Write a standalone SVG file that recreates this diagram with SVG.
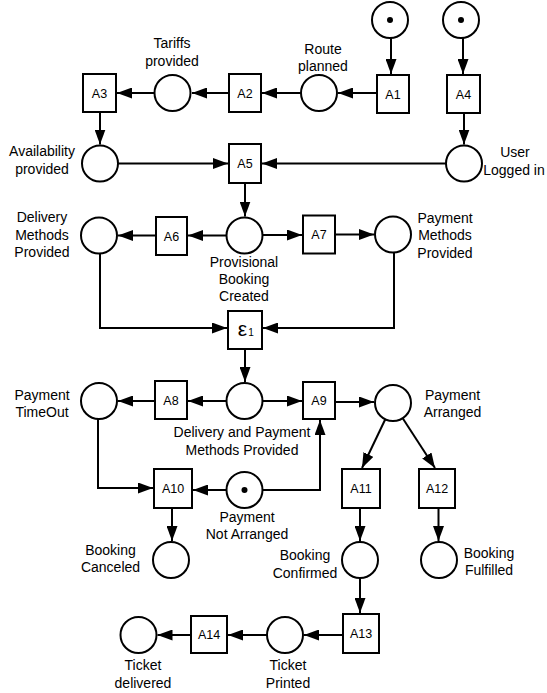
<svg xmlns="http://www.w3.org/2000/svg" width="547" height="693" viewBox="0 0 547 693">
<style>
.p{fill:#fff;stroke:#000;stroke-width:2}
.t{fill:#fff;stroke:#000;stroke-width:2}
.dot{fill:#000}
.tl{font-family:"Liberation Sans",Arial,sans-serif;font-size:12.5px;text-anchor:middle;fill:#000}
.lb{font-family:"Liberation Sans",Arial,sans-serif;font-size:14px;text-anchor:middle;fill:#000}
.e{fill:none;stroke:#000;stroke-width:2;marker-end:url(#arr)}
</style>
<defs>
<marker id="arr" markerUnits="userSpaceOnUse" markerWidth="15" markerHeight="11" refX="15" refY="5.5" orient="auto">
<path d="M0,0 L15,5.5 L0,11 z" fill="#000"/>
</marker>
</defs>
<rect width="547" height="693" fill="#fff"/>
<g id="connectors">
<path class="e" d="M391,38 V74"/>
<path class="e" d="M377,93 H338"/>
<path class="e" d="M301,93 H262"/>
<path class="e" d="M229,93 H192"/>
<path class="e" d="M154,93 H117"/>
<path class="e" d="M100,112 V144.5"/>
<path class="e" d="M463,38 V74"/>
<path class="e" d="M464,113 V144.5"/>
<path class="e" d="M118,163.5 H228"/>
<path class="e" d="M446,163.5 H262"/>
<path class="e" d="M245,183 V216.5"/>
<path class="e" d="M226,235.5 H188"/>
<path class="e" d="M156,235.5 H118"/>
<path class="e" d="M262,235 H302"/>
<path class="e" d="M335,234.5 H374"/>
<path class="e" d="M100,253.5 V328 H227"/>
<path class="e" d="M394,252.5 V328 H263"/>
<path class="e" d="M245,349 V382"/>
<path class="e" d="M226,401 H188"/>
<path class="e" d="M155,401 H118"/>
<path class="e" d="M262,401 H302"/>
<path class="e" d="M335,402 H374"/>
<path class="e" d="M98,419 V488 H153"/>
<path class="e" d="M226,490 H193"/>
<path class="e" d="M262,490 H320 V420"/>
<path class="e" d="M385.3,419.2 L362,468"/>
<path class="e" d="M402.7,418.3 L435,468"/>
<path class="e" d="M172,508 V541"/>
<path class="e" d="M360,508 V541"/>
<path class="e" d="M438.5,508 V541"/>
<path class="e" d="M360,578 V613"/>
<path class="e" d="M343,635 H304"/>
<path class="e" d="M267,635 H228"/>
<path class="e" d="M191,635 H157.5"/>
</g>
<g id="token1"><circle class="p" cx="390" cy="20" r="18"/><circle class="dot" cx="390" cy="20" r="3"/></g>
<g id="token2"><circle class="p" cx="461" cy="20" r="18"/><circle class="dot" cx="461" cy="20" r="3"/></g>
<g id="A1"><rect class="t" x="377" y="75" width="32" height="38"/><text class="tl" x="393" y="98.5">A1</text></g>
<g id="A2"><rect class="t" x="229" y="74" width="32" height="38"/><text class="tl" x="245" y="97.5">A2</text></g>
<g id="A3"><rect class="t" x="83" y="74" width="33" height="38"/><text class="tl" x="99.5" y="97.5">A3</text></g>
<g id="A4"><rect class="t" x="447" y="75" width="33" height="38"/><text class="tl" x="463.5" y="98.5">A4</text></g>
<g id="route-planned"><circle class="p" cx="319" cy="93" r="18"/><text class="lb" x="323" y="53.5">Route</text><text class="lb" x="323" y="71">planned</text></g>
<g id="tariffs-provided"><circle class="p" cx="172.5" cy="93" r="18"/><text class="lb" x="172" y="48">Tariffs</text><text class="lb" x="172" y="65.5">provided</text></g>
<g id="availability-provided"><circle class="p" cx="100" cy="163.5" r="18"/><text class="lb" x="42" y="156">Availability</text><text class="lb" x="42" y="173.5">provided</text></g>
<g id="user-logged-in"><circle class="p" cx="464" cy="163.5" r="18"/><text class="lb" x="515" y="157">User</text><text class="lb" x="514" y="175">Logged in</text></g>
<g id="A5"><rect class="t" x="229" y="144" width="32" height="39"/><text class="tl" x="245" y="168">A5</text></g>
<g id="delivery-methods-provided"><circle class="p" cx="99" cy="235.5" r="18"/><text class="lb" x="42" y="222">Delivery</text><text class="lb" x="42" y="239.5">Methods</text><text class="lb" x="42" y="257">Provided</text></g>
<g id="A6"><rect class="t" x="156" y="217" width="31" height="38"/><text class="tl" x="171.5" y="240.5">A6</text></g>
<g id="provisional-booking-created"><circle class="p" cx="244.5" cy="235.5" r="18"/><text class="lb" x="244" y="267">Provisional</text><text class="lb" x="244" y="284">Booking</text><text class="lb" x="244" y="301">Created</text></g>
<g id="A7"><rect class="t" x="303" y="215.5" width="32" height="38"/><text class="tl" x="319" y="239">A7</text></g>
<g id="payment-methods-provided"><circle class="p" cx="393" cy="234.5" r="18"/><text class="lb" x="445" y="223">Payment</text><text class="lb" x="445" y="240">Methods</text><text class="lb" x="445" y="257.5">Provided</text></g>
<g id="epsilon1"><rect class="t" x="228" y="311" width="34" height="38"/><text x="242.5" y="335.7" font-family="Liberation Sans,Arial,sans-serif" font-size="21" text-anchor="middle">ε</text><text x="248.3" y="335.7" font-family="Liberation Sans,Arial,sans-serif" font-size="10">1</text></g>
<g id="payment-timeout"><circle class="p" cx="99" cy="401" r="18"/><text class="lb" x="42" y="399.5">Payment</text><text class="lb" x="42" y="417">TimeOut</text></g>
<g id="A8"><rect class="t" x="155" y="381" width="32" height="38"/><text class="tl" x="171" y="404.5">A8</text></g>
<g id="delivery-and-payment-methods-provided"><circle class="p" cx="244.5" cy="401" r="18"/><text class="lb" x="242" y="437">Delivery and Payment</text><text class="lb" x="242" y="454.5">Methods Provided</text></g>
<g id="A9"><rect class="t" x="303" y="382" width="32" height="37"/><text class="tl" x="319" y="405">A9</text></g>
<g id="payment-arranged"><circle class="p" cx="393" cy="403" r="18"/><text class="lb" x="452.5" y="399.5">Payment</text><text class="lb" x="452.5" y="416.5">Arranged</text></g>
<g id="A10"><rect class="t" x="154" y="469" width="38" height="39"/><text class="tl" x="173" y="493">A10</text></g>
<g id="payment-not-arranged"><circle class="p" cx="244.5" cy="490" r="18"/><circle class="dot" cx="244.5" cy="490" r="3"/><text class="lb" x="247" y="522">Payment</text><text class="lb" x="247" y="538.5">Not Arranged</text></g>
<g id="A11"><rect class="t" x="342" y="469" width="38" height="39"/><text class="tl" x="361" y="493">A11</text></g>
<g id="A12"><rect class="t" x="419" y="469" width="36" height="39"/><text class="tl" x="437" y="493">A12</text></g>
<g id="booking-canceled"><circle class="p" cx="171" cy="560" r="18"/><text class="lb" x="110.5" y="555">Booking</text><text class="lb" x="110.5" y="572">Canceled</text></g>
<g id="booking-confirmed"><circle class="p" cx="360" cy="560" r="18"/><text class="lb" x="305" y="560">Booking</text><text class="lb" x="305" y="577.5">Confirmed</text></g>
<g id="booking-fulfilled"><circle class="p" cx="439" cy="560" r="18"/><text class="lb" x="489" y="557.5">Booking</text><text class="lb" x="489" y="575">Fulfilled</text></g>
<g id="A13"><rect class="t" x="343" y="614" width="36" height="39"/><text class="tl" x="361" y="638">A13</text></g>
<g id="ticket-printed"><circle class="p" cx="285" cy="635" r="18"/><text class="lb" x="288" y="670">Ticket</text><text class="lb" x="288" y="687.5">Printed</text></g>
<g id="A14"><rect class="t" x="191" y="616" width="36" height="37"/><text class="tl" x="209" y="639">A14</text></g>
<g id="ticket-delivered"><circle class="p" cx="138.5" cy="635" r="18"/><text class="lb" x="143" y="670">Ticket</text><text class="lb" x="143" y="687.5">delivered</text></g>
</svg>
